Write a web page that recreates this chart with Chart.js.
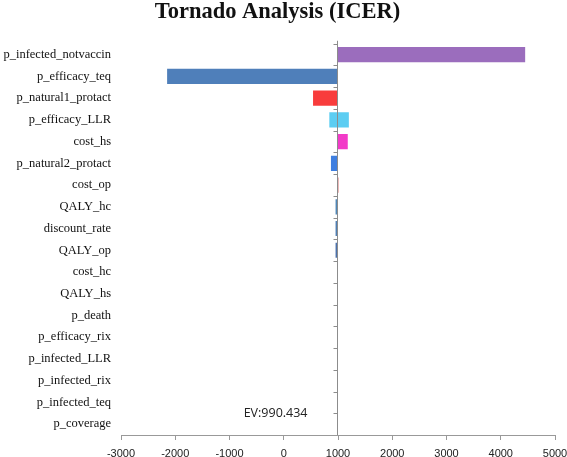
<!DOCTYPE html>
<html>
<head>
<meta charset="utf-8">
<script src="https://cdn.jsdelivr.net/npm/chart.js@4.4.1/dist/chart.umd.min.js"></script>
<style>
  html, body { margin: 0; padding: 0; background: #fff; }
  #wrap { width: 567px; height: 457px; }
</style>
</head>
<body>
<div id="wrap"><canvas id="tornado"></canvas></div>
<script>
// tornado data, ICER
var ev = 990.434;
var params = ["p_infected_notvaccin", "p_efficacy_teq", "p_natural1_protact", "p_efficacy_LLR",
    "cost_hs", "p_natural2_protact", "cost_op", "QALY_hc", "discount_rate", "QALY_op",
    "cost_hc", "QALY_hs", "p_death", "p_efficacy_rix", "p_infected_LLR", "p_infected_rix",
    "p_infected_teq", "p_coverage"];
var lowValues = [990.434, -2150, 540, 840, 990.434, 870, 990.434, 955, 955, 955,
    990.434, 990.434, 990.434, 990.434, 990.434, 990.434, 990.434, 990.434];
var highValues = [4450, 990.434, 990.434, 1200, 1180, 990.434, 1012, 990.434, 990.434, 990.434,
    990.434, 990.434, 990.434, 990.434, 990.434, 990.434, 990.434, 990.434];
var barColors = ["#9b6dbd", "#4f7fba", "#f83c3c", "#5ccdf2", "#f23ac8", "#3f7fe0", "#e49494",
    "#4f87b8", "#4f7fb4", "#4c72ac", "#cccccc", "#cccccc", "#cccccc", "#cccccc", "#cccccc",
    "#cccccc", "#cccccc", "#cccccc"];
var xTicks = [-3000, -2000, -1000, 0, 1000, 2000, 3000, 4000, 5000];

var ranges = [];
for (var i = 0; i < params.length; i++) {
    ranges.push([lowValues[i], highValues[i]]);
}

// vertical line at EV + small category ticks + EV text
var evLine = {
    id: 'evLine',
    afterDatasetsDraw: function (chart) {
        var ctx = chart.ctx;
        var xs = chart.scales.x, ys = chart.scales.y;
        var x = Math.round(xs.getPixelForValue(ev)) + 0.5;
        ctx.save();
        ctx.strokeStyle = '#8c8c8c';
        ctx.lineWidth = 1;
        ctx.beginPath();
        ctx.moveTo(x, chart.chartArea.top - 3);
        ctx.lineTo(x, chart.chartArea.bottom);
        var step = (ys.bottom - ys.top) / params.length;
        for (var i = 0; i < params.length; i++) {
            var y = Math.round(ys.top + step * i) + 0.5;
            ctx.moveTo(x - 4, y);
            ctx.lineTo(x, y);
        }
        ctx.stroke();
        ctx.fillStyle = '#222';
        ctx.font = '12.5px "Open Sans", "Liberation Sans", sans-serif';
        ctx.textAlign = 'right';
        ctx.textBaseline = 'middle';
        ctx.fillText('EV:' + ev, x - 30, ys.getPixelForValue(params.length - 1) - 11);
        ctx.restore();
    }
};

var ctx = document.getElementById('tornado');
var chart = new Chart(ctx, {
    type: 'bar',
    data: {
        labels: params,
        datasets: [{
            data: ranges,
            backgroundColor: barColors,
            borderWidth: 0,
            barPercentage: 0.7,
            categoryPercentage: 1.0
        }]
    },
    options: {
        indexAxis: 'y',
        responsive: true,
        maintainAspectRatio: false,
        animation: false,
        layout: { padding: { top: 0, right: 12, bottom: 0, left: 0 } },
        plugins: {
            legend: { display: false },
            tooltip: { enabled: false },
            title: {
                display: true,
                text: 'Tornado Analysis (ICER)',
                color: '#111',
                font: { family: '"Liberation Serif", serif', size: 22.5, weight: 'bold', lineHeight: 1.1 },
                padding: { top: 0, bottom: 19 }
            }
        },
        scales: {
            x: {
                min: -3000,
                max: 5000,
                afterBuildTicks: function (scale) {
                    scale.ticks = xTicks.map(function (v) { return { value: v }; });
                },
                afterFit: function (scale) {
                    scale.paddingLeft = 0;
                    scale.paddingRight = 0;
                    scale.height = 22;
                },
                grid: { drawOnChartArea: false, drawTicks: true, tickLength: 5, color: '#999' },
                border: { color: '#999' },
                ticks: {
                    color: '#222',
                    padding: 7,
                    maxRotation: 0,
                    font: { family: '"Liberation Sans", sans-serif', size: 11 },
                    callback: function (v) { return String(v); }
                }
            },
            y: {
                afterFit: function (scale) {
                    scale.width = 121;
                    scale.paddingTop = 0;
                    scale.paddingBottom = 0;
                },
                grid: { display: false, drawTicks: false, tickLength: 0 },
                border: { display: false },
                ticks: {
                    color: '#111',
                    padding: 10,
                    font: { family: '"Liberation Serif", serif', size: 12.5 }
                }
            }
        }
    },
    plugins: [evLine]
});
</script>
</body>
</html>
